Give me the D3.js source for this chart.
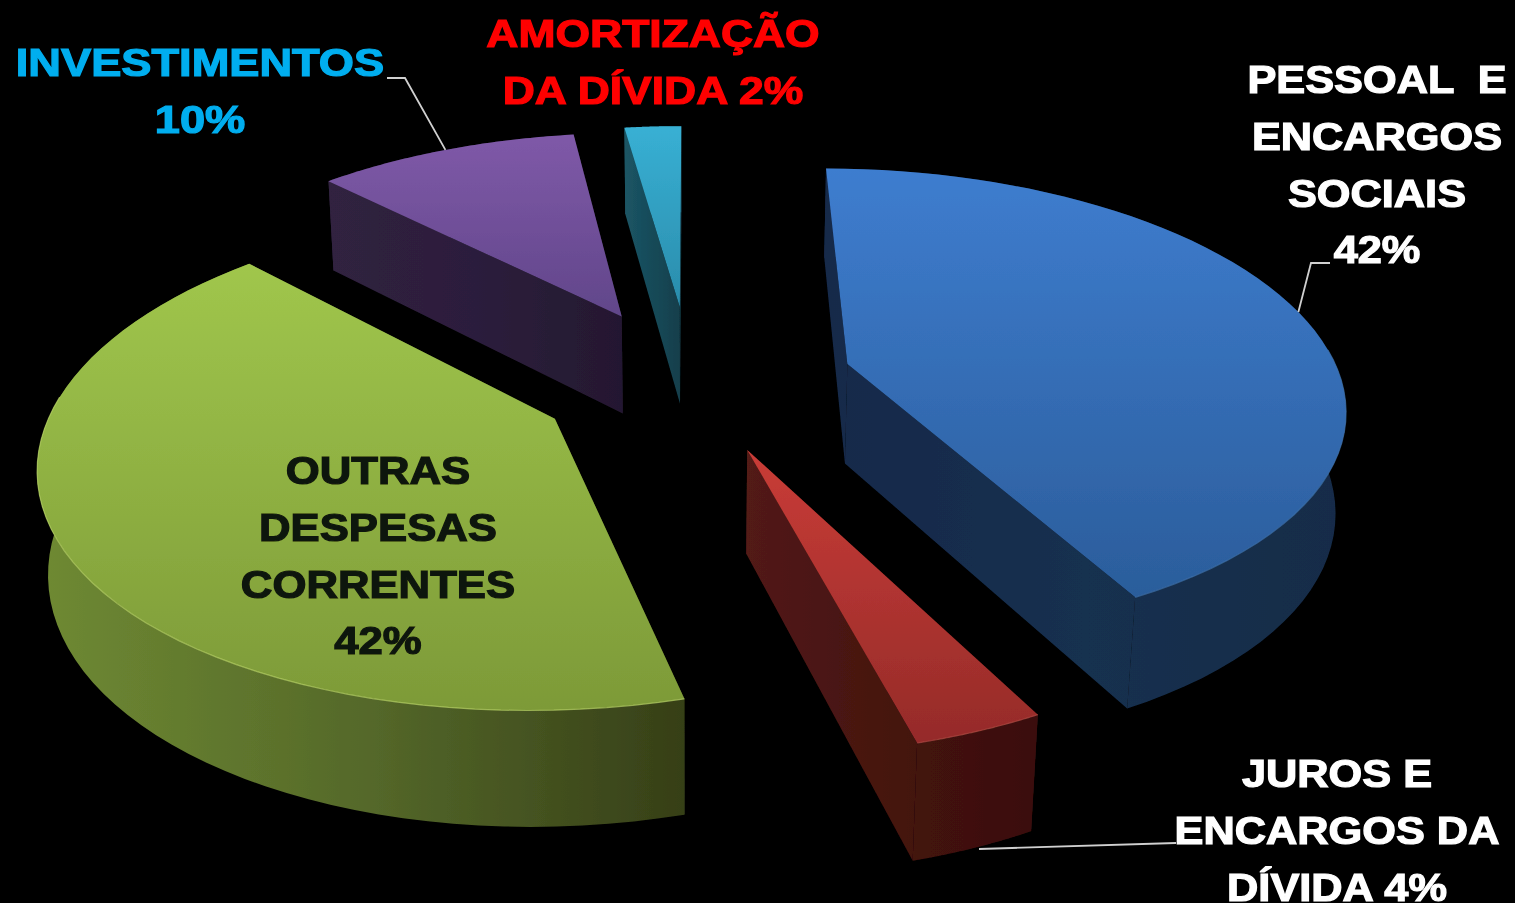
<!DOCTYPE html>
<html lang="pt">
<head>
<meta charset="UTF-8">
<title>Despesas</title>
<script src="https://d3js.org/d3.v7.min.js"></script>
<style>
    html, body { margin: 0; padding: 0; background: #000; overflow: hidden; }
    svg { display: block; }
    text { font-family: "Liberation Sans", Arial, sans-serif; font-weight: bold; font-size: 38px; text-anchor: middle; stroke-width: 1.2px; }
</style>
</head>
<body>
<svg id="chart" width="1515" height="903"></svg>
<script>
    // values, same order as the pie runs clockwise from 12 o'clock
    // (the printed labels are rounded)
    const categories = ["PESSOAL E ENCARGOS SOCIAIS", "JUROS E ENCARGOS DA DÍVIDA", "OUTRAS DESPESAS CORRENTES", "INVESTIMENTOS", "AMORTIZAÇÃO DA DÍVIDA"];
    const values = [42.35, 3.5, 41.7, 10.22, 2.23];
    const labelLines = [
        ["PESSOAL  E", "ENCARGOS", "SOCIAIS", "42%"],
        ["JUROS E", "ENCARGOS DA", "DÍVIDA 4%"],
        ["OUTRAS", "DESPESAS", "CORRENTES", "42%"],
        ["INVESTIMENTOS", "10%"],
        ["AMORTIZAÇÃO", "DA DÍVIDA 2%"]
    ];

    // look of each slice
    const explode = [0.33, 0.30, 0.31, 0.33, 0.34];
    const topColors = [["#3e7dcf", "#2b5d9b"], ["#c93c37", "#952b29"], ["#a0c64c", "#7d9a38"], ["#7f59a8", "#61468a"], ["#38b0d4", "#2a8cab"]];
    const wallColors = [["#15294a", "#16304f", "#152c48"], ["#521a17", "#45130f", "#3a0f0d"], ["#6f8a32", "#55692a", "#363f17"], ["#30213f", "#2c1e3c", "#241830"], ["#1b5565", "#174a58", "#143e4b"]];
    const rimColors = ["#3f72ad", "#b04a45", "#b9d468", "#6d4f95", "#3a9dba"];
    const labelX = [1377, 1337, 378, 200, 653];
    const labelY = [93, 787, 484, 76, 47];
    const labelStretch = [1.14, 1.14, 1.15, 1.19, 1.17];
    const labelColor = ["#ffffff", "#ffffff", "#10140a", "#00aeef", "#ff0000"];

    // 3D projection of the pie: u right, v towards viewer, z down
    const cx = 691, cy = 382, rx = 494, ry = 232, persp = 0.16, depth = 102, shrink = 0.016;
    const project = (u, v, z) => {
        const s = 1 / (1 - persp * v + shrink * z);
        return [cx + rx * u * s, cy + (ry * v + depth * z) * s];
    };

    const svg = d3.select("#chart");
    const defs = svg.append("defs");
    defs.append("filter").attr("id", "soft").append("feGaussianBlur").attr("stdDeviation", 0.6);

    const arcs = d3.pie().sort(null).value(d => d)(values);
    const line = d3.line();
    const chart = svg.append("g").attr("filter", "url(#soft)");

    arcs.forEach((d, i) => {
        const mid = (d.startAngle + d.endAngle) / 2;
        const ox = explode[i] * Math.sin(mid), oy = -explode[i] * Math.cos(mid);
        const pt = (a, z) => project(ox + Math.sin(a), oy - Math.cos(a), z);
        const apex = z => project(ox, oy, z);
        const steps = d3.range(0, 61).map(k => d.startAngle + (d.endAngle - d.startAngle) * k / 60);

        const topPath = [apex(0), ...steps.map(a => pt(a, 0))];
        const ys = topPath.map(p => p[1]), xs = steps.flatMap(a => [pt(a, 0)[0], pt(a, 1)[0]]).concat(apex(1)[0]);

        const tg = defs.append("linearGradient").attr("id", `top${i}`).attr("gradientUnits", "userSpaceOnUse")
            .attr("x1", 0).attr("x2", 0).attr("y1", d3.min(ys)).attr("y2", d3.max(ys));
        tg.append("stop").attr("offset", 0).attr("stop-color", topColors[i][0]);
        tg.append("stop").attr("offset", 1).attr("stop-color", topColors[i][1]);

        const wg = defs.append("linearGradient").attr("id", `wall${i}`).attr("gradientUnits", "userSpaceOnUse")
            .attr("x1", d3.min(xs)).attr("x2", d3.max(xs)).attr("y1", 0).attr("y2", 0);
        wallColors[i].forEach((c, k) => wg.append("stop").attr("offset", k / 2).attr("stop-color", c));

        const g = chart.append("g");
        // outer wall, then cut faces, then the top over them
        g.append("path")
            .attr("d", line([...steps.map(a => pt(a, 0)), ...steps.slice().reverse().map(a => pt(a, 1))]) + "Z")
            .attr("fill", `url(#wall${i})`);
        [d.startAngle, d.endAngle].forEach(a => {
            g.append("path").attr("d", line([apex(0), pt(a, 0), pt(a, 1), apex(1)]) + "Z").attr("fill", `url(#wall${i})`);
        });
        g.append("path").attr("d", line(topPath) + "Z").attr("fill", `url(#top${i})`);
        // pale bevel on the front part of the rim
        g.append("path")
            .attr("d", line(steps.filter(a => Math.cos(a) < 0.1).map(a => pt(a, 0))))
            .attr("fill", "none").attr("stroke", rimColors[i]).attr("stroke-width", 1.2).attr("stroke-opacity", 0.7);
    });

    // leader lines start on the rim of the slice
    const rimPoint = (i, frac) => {
        const d = arcs[i];
        const mid = (d.startAngle + d.endAngle) / 2;
        const a = d.startAngle + (d.endAngle - d.startAngle) * frac;
        return project(explode[i] * Math.sin(mid) + Math.sin(a), -explode[i] * Math.cos(mid) - Math.cos(a), 0);
    };
    const leaders = [
        [rimPoint(0, 0.5), [1311, 263], [1330, 263]],
        [[979, 849], [1176, 843]],
        [rimPoint(3, 0.5), [405, 78], [387, 78]]
    ];
    chart.selectAll(".leader").data(leaders).join("path").attr("class", "leader")
        .attr("d", line).attr("fill", "none").attr("stroke", "#d0d0d0").attr("stroke-width", 1.8);

    const labels = svg.append("g").attr("filter", "url(#soft)");
    labelLines.forEach((lines, i) => {
        const t = labels.append("text").attr("fill", labelColor[i]).attr("stroke", labelColor[i]).attr("xml:space", "preserve")
            .attr("transform", `translate(${labelX[i]},0) scale(${labelStretch[i]},1)`);
        lines.forEach((s, k) => t.append("tspan").attr("x", 0).attr("y", labelY[i] + k * 56.8).text(s));
    });
</script>
</body>
</html>
